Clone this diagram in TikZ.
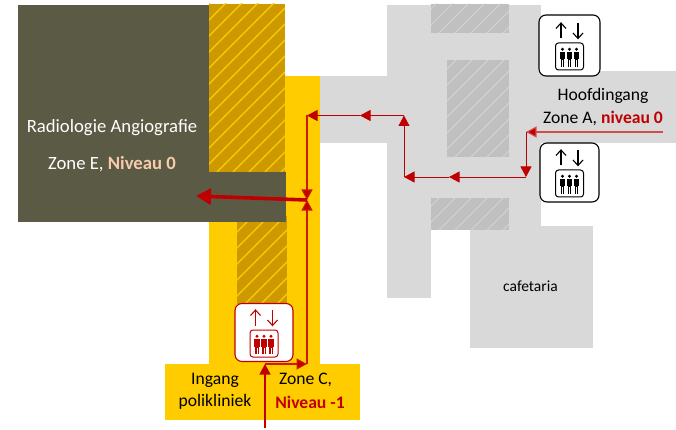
\documentclass[tikz,border=0pt]{standalone}
\usepackage{fontspec}
\setmainfont{Carlito}
\usetikzlibrary{arrows.meta}
\definecolor{olive}{HTML}{5B5B45}
\definecolor{zonegold}{HTML}{FFCC00}
\definecolor{hatchgold}{HTML}{CC9900}
\definecolor{lgray}{HTML}{D9D9D9}
\definecolor{hatchgray}{HTML}{C0C0C0}
\definecolor{routered}{HTML}{C00000}
\tikzset{
  x=1pt,y=-1pt,
  route/.style={draw=routered,line width=0.9pt},
  routeo/.style={draw=routered!80!orange,line width=1.2pt},
  lbl/.style={font=\fontsize{17.6}{21}\selectfont,align=center,inner sep=0pt},
  lblbig/.style={font=\fontsize{18.7}{22}\selectfont,align=center,inner sep=0pt},
  elevbox/.style={draw=#1,fill=white,line width=1.1pt,rounded corners=7pt},
}
% hatch: x1 y1 x2 y2 bg line
\newcommand{\hatchrect}[6]{%
  \fill[#5] (#1,#2) rectangle (#3,#4);
  \begin{scope}
    \clip (#1,#2) rectangle (#3,#4);
    \foreach \k in {0,16,...,480}{
      \draw[line width=0.7pt,#6] ({#1+\k-200},#4) -- ++(200,-200);
    }
  \end{scope}}
% elevator icon: centre x y, half size, colour, name
\newcommand{\elev}[5]{%
  \begin{scope}[shift={(#1,#2)}]
    \node[elevbox=#4,minimum width=#3*2pt,minimum height=#3*2pt,inner sep=0pt] (#5) at (0,0) {};
    \draw[#4,line width=1.1pt] (-8.5,-7) -- (-8.5,-22.5);
    \draw[#4,line width=1.1pt,line join=miter] (-13.5,-17) -- (-8.5,-22.5) -- (-3.5,-17);
    \draw[#4,line width=1.1pt] (8.5,-22.5) -- (8.5,-7);
    \draw[#4,line width=1.1pt,line join=miter] (3.5,-12.5) -- (8.5,-7) -- (13.5,-12.5);
    \draw[#4,line width=1pt,rounded corners=3pt] (-14,-2.5) rectangle (14,24.5);
    \foreach \px in {-7,0,7}{
      \fill[#4] (\px,3.8) circle (1.6);
      \fill[#4] ({\px-2.9},6.5) rectangle ({\px+2.9},14);
      \fill[#4] ({\px-1.9},14) rectangle ({\px+1.9},21.5);
      \draw[white,line width=0.4pt] (\px,15) -- (\px,21.5);
    }
  \end{scope}}
\begin{document}
\begin{tikzpicture}
\useasboundingbox (0,0) rectangle (676,430);
% gray building
\fill[lgray] (387,5) rectangle (541,226);
\fill[lgray] (387,226) rectangle (431,298);
\fill[lgray] (320,76) rectangle (387,143);
\fill[lgray] (541,71) rectangle (676,143);
\fill[lgray] (470,226) rectangle (593,348);
\fill[white] (431,226) rectangle (470,232);
\hatchrect{431}{4}{509}{33}{hatchgray}{lgray}
\hatchrect{447}{60}{509}{157}{hatchgray}{lgray}
\hatchrect{431}{198}{509}{230}{hatchgray}{lgray}
% yellow zone
\fill[zonegold] (285,76) rectangle (320,364);
\fill[zonegold] (209,222) rectangle (285,364);
\fill[zonegold] (164.5,364) rectangle (360,419.5);
\hatchrect{209}{4}{285}{172}{hatchgold}{zonegold,line width=1.2pt}
\hatchrect{237}{216}{287}{304}{hatchgold}{zonegold,line width=1.2pt}
% olive block
\fill[olive] (18,5) rectangle (209,222);
\fill[olive] (209,172) rectangle (286,222);
% texts
\node[lblbig,text=white] (radio) at (112,128) {Radiologie Angiografie};
\node[lblbig,text=white] (zonee) at (112,164.5) {Zone E, \textcolor[HTML]{F8CBAD}{\textbf{Niveau 0}}};
\node[lbl] (hoofd) at (603,96) {Hoofdingang};
\node[lbl] (zonea) at (603,118) {Zone A, \textcolor{routered}{\textbf{niveau 0}}};
\node[lbl] (ingang) at (215,380) {Ingang};
\node[lbl] (poli) at (215,402) {polikliniek};
\node[lbl] (zonec) at (305.5,380) {Zone C,};
\node[lbl] (nivc) at (310,402) {\textcolor{routered}{\textbf{Niveau -1}}};
\node[font=\fontsize{15.5}{18}\selectfont,inner sep=0pt] (cafe) at (530.5,286) {cafetaria};
% elevators
\elev{569.5}{45.5}{30.5}{black}{elevA}
\elev{569.5}{172.5}{29.5}{black}{elevB}
\elev{264}{332.5}{29}{routered}{elevC}
% route points
\coordinate (r0) at (663,132);
\coordinate (r1) at (526,132);
\coordinate (r2) at (526,177);
\coordinate (r2m) at (449,177);
\coordinate (r3) at (404,177);
\coordinate (r4) at (404,115.5);
\coordinate (r4m) at (360,115.5);
\coordinate (r5) at (307,115.5);
\coordinate (r6) at (307,200);
\coordinate (r7) at (307,364);
\coordinate (r8) at (265,364);
\coordinate (r9) at (265,428);
\coordinate (r10) at (196,196);
\tikzset{stip/.style={-{Triangle[length=10.5pt,width=11pt,fill=routered]}}}
\draw[draw=routered!70,line width=1.1pt,stip] (r0) -- (r1);
\draw[route,stip] (r1) -- (r2);
\draw[route,stip] (r2) -- (r2m);
\draw[route,stip] (r2m) -- (r3);
\draw[route,stip] (r3) -- (r4);
\draw[route,stip] (r4) -- (r4m);
\draw[route,stip] (r4m) -- (r5);
\draw[routeo,stip] (r5) -- (r6);
\draw[routeo,stip] (r7) -- (r6);
\draw[routeo,stip] (r8) -- (r7);
\draw[draw=routered,line width=1.2pt,stip] (r9) -- (r8);
\draw[draw=routered,line width=3.6pt,-{Triangle[length=15pt,width=16pt,fill=routered]}] (r6) -- (r10);
\end{tikzpicture}
\end{document}
